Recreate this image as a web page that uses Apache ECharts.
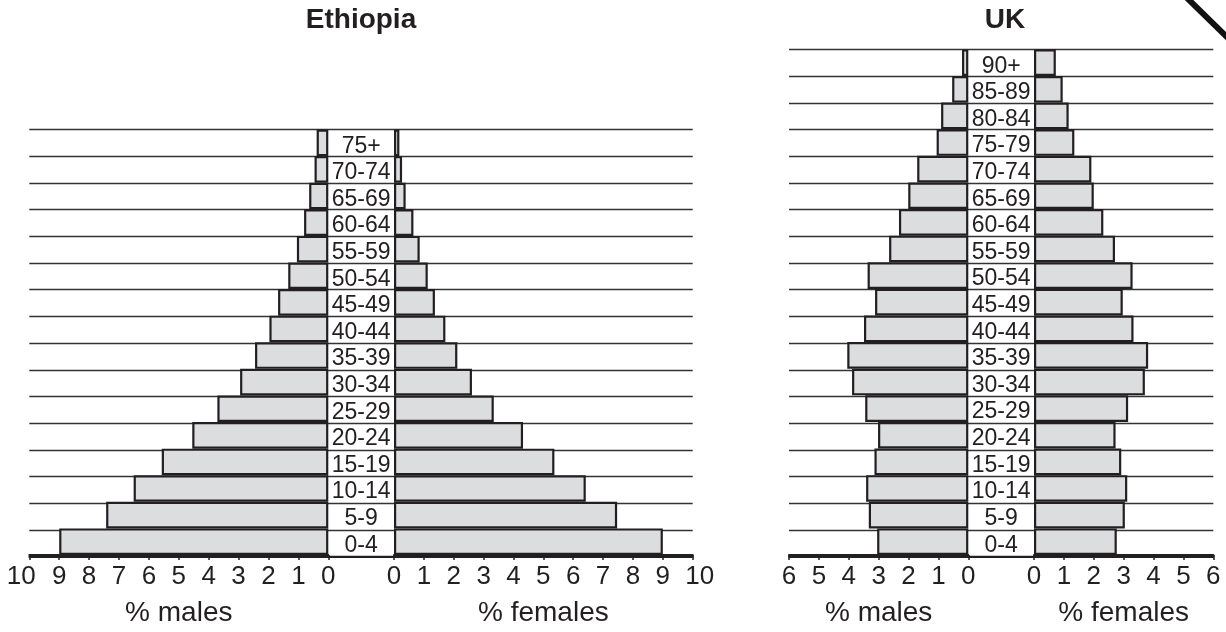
<!DOCTYPE html>
<html>
<head>
<meta charset="utf-8">
<script src="https://cdn.jsdelivr.net/npm/echarts@6/dist/echarts.min.js"></script>
<style>
html,body{margin:0;padding:0;background:#fff;}
#chart{width:1226px;height:632px;}
</style>
</head>
<body>
<div id="chart"></div>
<script>
// ---- data ----
const ethAges = ['0-4','5-9','10-14','15-19','20-24','25-29','30-34','35-39','40-44','45-49','50-54','55-59','60-64','65-69','70-74','75+'];
const ethMales = [9.0, 7.43, 6.51, 5.57, 4.55, 3.71, 2.95, 2.45, 1.97, 1.68, 1.34, 1.05, 0.81, 0.64, 0.46, 0.39];
const ethFemales = [9.0, 7.47, 6.42, 5.37, 4.32, 3.34, 2.61, 2.12, 1.72, 1.37, 1.13, 0.86, 0.65, 0.39, 0.27, 0.18];

const ukAges = ['0-4','5-9','10-14','15-19','20-24','25-29','30-34','35-39','40-44','45-49','50-54','55-59','60-64','65-69','70-74','75-79','80-84','85-89','90+'];
const ukMales = [3.05, 3.33, 3.42, 3.14, 3.02, 3.45, 3.89, 4.05, 3.49, 3.12, 3.37, 2.65, 2.32, 2.01, 1.71, 1.06, 0.91, 0.54, 0.21];
const ukFemales = [2.77, 3.04, 3.12, 2.92, 2.73, 3.15, 3.71, 3.82, 3.33, 2.97, 3.30, 2.71, 2.32, 2.00, 1.92, 1.35, 1.16, 0.96, 0.73];

const titles = ['Ethiopia', 'UK'];
const maleName = '% males';
const femaleName = '% females';

// ---- styling ----
const FONT = '"Liberation Sans", Arial, sans-serif';
const INK = '#231f20';
const BAR_FILL = '#dcdddf';
const ROW = 26.7;
const BOTTOM_Y = 556.7;

const chart = echarts.init(document.getElementById('chart'));

function bgGrid(left, right, nRows) {
  return { left: left, width: right - left, top: BOTTOM_Y - ROW * nRows, height: ROW * nRows };
}

const gEth = { l: 29.3, zm: 328.3, zf: 394, r: 692.7, n: ethAges.length };
const gUk = { l: 789, zm: 968.3, zf: 1034, r: 1213.3, n: ukAges.length };

const grids = [];
const xAxes = [];
const yAxes = [];
const series = [];

function valueXAxis(gridIndex, max, inverse, name, tenShift) {
  return {
    type: 'value', gridIndex: gridIndex, min: 0, max: max, interval: 1, inverse: inverse,
    name: name, nameLocation: 'middle', nameGap: 44,
    nameTextStyle: { fontFamily: FONT, fontSize: 28, color: INK },
    axisLine: { show: true, lineStyle: { color: INK, width: 2 } },
    axisTick: { show: true, length: 5, inside: false, lineStyle: { color: INK, width: 1.5 } },
    axisLabel: {
      show: true, margin: 9, fontFamily: FONT, fontSize: 26, color: INK,
      formatter: function (v) { return (v === 10 && tenShift) ? '{t|10}' : String(v); },
      rich: { t: { fontFamily: FONT, fontSize: 26, color: INK, padding: tenShift || [0,0,0,0] } }
    },
    splitLine: { show: false }
  };
}

function addPyramid(g, ages, males, females, maxV, tenShiftM, tenShiftF) {
  const base = grids.length;
  // background grid with row lines
  grids.push(bgGrid(g.l, g.r, g.n));
  xAxes.push({ type: 'value', gridIndex: base, min: 0, max: 1, axisLine: { show: true, lineStyle: { color: INK, width: 2 } }, axisTick: { show: false }, axisLabel: { show: false }, splitLine: { show: false } });
  yAxes.push({ type: 'value', gridIndex: base, min: 0, max: g.n, interval: 1, axisLine: { show: false }, axisTick: { show: false }, axisLabel: { show: false }, splitLine: { show: true, lineStyle: { color: '#333333', width: 1.4 } } });
  // males
  grids.push(bgGrid(g.l, g.zm, g.n));
  xAxes.push(valueXAxis(base + 1, maxV, true, maleName, tenShiftM));
  yAxes.push({ type: 'category', gridIndex: base + 1, data: ages, show: false });
  // females
  grids.push(bgGrid(g.zf, g.r, g.n));
  xAxes.push(valueXAxis(base + 2, maxV, false, femaleName, tenShiftF));
  yAxes.push({
    type: 'category', gridIndex: base + 2, data: ages, position: 'left',
    axisLine: { show: false }, axisTick: { show: false }, splitLine: { show: false },
    axisLabel: {
      show: true, interval: 0, margin: (g.zf - g.zm) / 2, align: 'center',
      fontFamily: FONT, fontSize: 23, color: INK,
      formatter: function (v) { return '{c|' + v + '}'; },
      rich: { c: { fontFamily: FONT, fontSize: 23, color: INK, padding: [7, 0, 0, 0] } }
    }
  });
  const barStyle = { color: BAR_FILL, borderColor: INK, borderWidth: 2.2 };
  series.push({ type: 'bar', xAxisIndex: base + 1, yAxisIndex: base + 1, data: males, barCategoryGap: '0%', itemStyle: barStyle, silent: true, z: 3 });
  series.push({ type: 'bar', xAxisIndex: base + 2, yAxisIndex: base + 2, data: females, barCategoryGap: '0%', itemStyle: barStyle, silent: true, z: 3 });
}

addPyramid(gEth, ethAges, ethMales, ethFemales, 10, [0, 16, 0, 0], [0, 0, 0, 14]);
addPyramid(gUk, ukAges, ukMales, ukFemales, 6, null, null);

const option = {
  backgroundColor: '#ffffff',
  animation: false,
  grid: grids,
  xAxis: xAxes,
  yAxis: yAxes,
  series: series,
  graphic: [
    { type: 'text', x: 361, y: 20, style: { text: titles[0], textAlign: 'center', textVerticalAlign: 'middle', font: 'bold 28px ' + FONT, fill: INK } },
    { type: 'text', x: 1005, y: 20, style: { text: titles[1], textAlign: 'center', textVerticalAlign: 'middle', font: 'bold 28px ' + FONT, fill: INK } },
    { type: 'line', shape: { x1: 1186, y1: -3, x2: 1232, y2: 42 }, style: { stroke: '#111', lineWidth: 6 } }
  ]
};
chart.setOption(option);
</script>
</body>
</html>
